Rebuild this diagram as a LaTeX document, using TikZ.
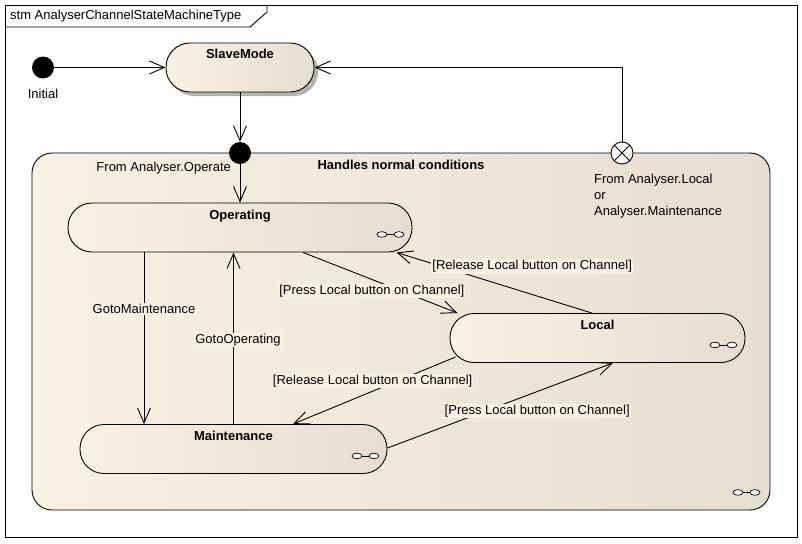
\documentclass[tikz,border=0pt]{standalone}
\usepackage{fontspec}
\setmainfont{Liberation Sans}
\usetikzlibrary{arrows.meta, positioning, shadows}

\definecolor{stcream}{RGB}{251,241,227}
\definecolor{stbeige}{RGB}{230,222,208}
\newcommand{\diagfont}{\fontsize{13}{16}\selectfont}

\tikzset{
  frame/.style={draw=black, line width=0.9pt},
  stateshape/.style={rectangle, rounded corners=24pt, minimum height=49pt, draw=black, line width=0.9pt,
    left color=stcream, middle color=stcream, right color=stbeige,
    text height=10pt, text depth=27pt, inner ysep=6pt, font=\diagfont\bfseries},
  composite/.style={rectangle, rounded corners=20pt, draw=black, line width=0.9pt,
    left color=stcream, middle color=stcream, right color=stbeige},
  pseudo/.style={circle, fill=black, minimum size=22pt, inner sep=0pt},
  exitpt/.style={circle, draw=black, fill=white, minimum size=22pt, inner sep=0pt, line width=0.9pt},
  trans/.style={-{Straight Barb[length=15pt, width=13pt]}, line width=0.9pt},
  lbl/.style={fill=stcream, inner sep=1pt},
  compicon/.pic={
    \draw[line width=0.7pt, fill=white] (-8.5,0) ellipse [x radius=5pt, y radius=2.8pt];
    \draw[line width=0.7pt, fill=white] (8.5,0) ellipse [x radius=5pt, y radius=2.8pt];
    \draw[line width=0.7pt] (-3.5,0) -- (3.5,0);
  },
}

\begin{document}
\begin{tikzpicture}[x=1pt, y=-1pt, font=\diagfont]
  % canvas and frame
  \useasboundingbox (0,0) rectangle (802,543);
  \fill[white] (0,0) rectangle (802,543);
  \draw[frame] (5,5) rectangle (797,537);
  \node[anchor=west, inner sep=0pt] (title) at (10,16) {stm AnalyserChannelStateMachineType};
  \draw[frame] (5,27) -- (250,27) -- (267,12) -- (267,5);

  % composite state
  \node[composite, minimum width=738pt, minimum height=357pt] (normal) at (401,331.5) {};
  \node[font=\diagfont\bfseries, below=4pt of normal.north] (normaltitle) {Handles normal conditions};

  % pseudo states
  \node[pseudo, label={[label distance=7pt]below:Initial}] (init) at (43,67.5) {};
  \node[pseudo] (en) at (240,153) {};
  \node[exitpt] (ex) at (622,153) {};
  \draw[line width=0.9pt] (ex.45) -- (ex.225) (ex.135) -- (ex.315);
  \node[anchor=north east, inner sep=1pt] (entrynote) at (en.south west) {From Analyser.Operate};
  \node[anchor=north west, align=left, inner sep=1pt] (exitnote) at ([xshift=-21pt, yshift=-12pt]ex.south west)
    {From Analyser.Local\\or\\Analyser.Maintenance};

  % states
  \node[stateshape, minimum width=148pt,
    drop shadow={shadow xshift=4pt, shadow yshift=-4pt, fill=black!30, opacity=1}] (slave) at (240,67.5) {SlaveMode};
  \node[stateshape, minimum width=344pt] (op) at (240,227.5) {Operating};
  \node[stateshape, minimum width=295pt] (loc) at (597.5,338) {Local};
  \node[stateshape, minimum width=307pt] (mnt) at (233.5,449) {Maintenance};

  \foreach \s in {op, loc, mnt}
    \pic at ([xshift=-22pt, yshift=18pt]\s.south east) {compicon};
  \pic at ([xshift=-24pt, yshift=18pt]normal.south east) {compicon};

  % transitions
  \draw[trans] (init) -- (slave);
  \draw[trans] (slave) -- (en);
  \draw[trans] (en) -- (op);
  \draw[trans] (ex) |- (slave);
  \draw[trans] ([xshift=-96pt]op.south) -- ([xshift=-96pt]op.south |- mnt.north)
    node[lbl, pos=0.33] {GotoMaintenance};
  \draw[trans] (mnt.north) -- (mnt.north |- op.south)
    node[lbl, pos=0.49, xshift=4.5pt] {GotoOperating};
  \draw[trans] ([xshift=63pt]op.south) -- ([xshift=8pt]loc.north west)
    node[lbl, pos=0.445, yshift=-12pt] {[Press Local button on Channel]};
  \draw[trans] ([xshift=-5.5pt]loc.north) -- ([xshift=-16pt]op.south east)
    node[lbl, pos=0.306, yshift=28pt] {[Release Local button on Channel]};
  \draw[trans] ([xshift=6pt, yshift=-19pt]loc.west) -- ([xshift=59.5pt]mnt.north)
    node[lbl, pos=0.51, yshift=10pt] {[Release Local button on Channel]};
  \draw[trans] ([yshift=1pt]mnt.east) -- ([xshift=15.5pt]loc.south)
    node[lbl, pos=0.664, yshift=-19.5pt] {[Press Local button on Channel]};
\end{tikzpicture}
\end{document}
